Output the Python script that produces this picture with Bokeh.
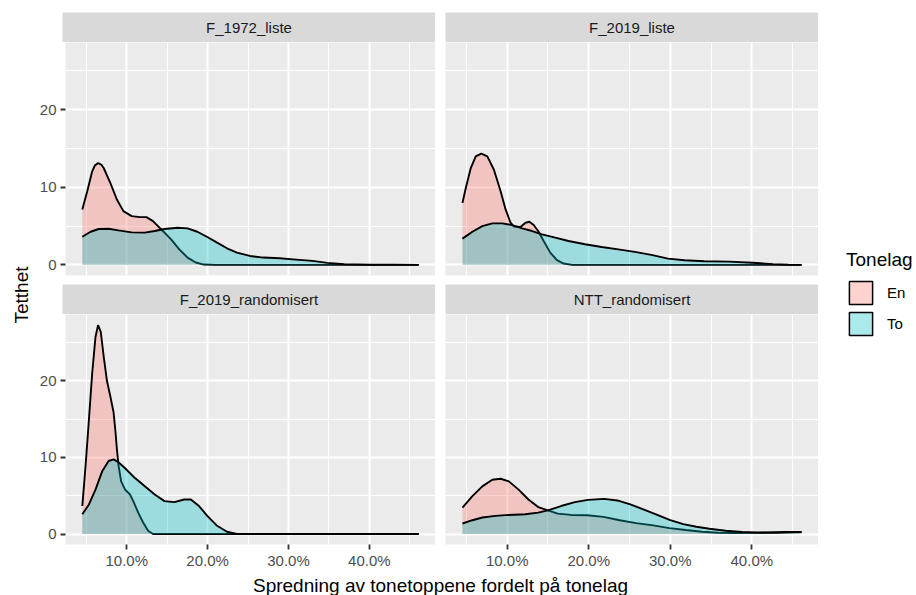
from math import pi
from bokeh.plotting import figure
from bokeh.models import (Range1d, FixedTicker, NumeralTickFormatter, Label, Legend,
                          LegendItem, ColumnDataSource, LinearAxis, Grid)
from bokeh.layouts import row, column
from bokeh.embed import file_html
from bokeh.resources import INLINE

FONT = "Liberation Sans"

# ---------------- data ----------------
facets = ["F_1972_liste", "F_2019_liste", "F_2019_randomisert", "NTT_randomisert"]
groups = ["En", "To"]
group_colors = ["#F8766D", "#00BFC4"]

x_ticks = [0.1, 0.2, 0.3, 0.4]
x_minor = [0.05, 0.15, 0.25, 0.35, 0.45]
y_ticks = [0, 10, 20]
y_minor = [5, 15, 25]

f1972_en_x = [0.0451, 0.0512, 0.0573, 0.0606, 0.0646, 0.0687, 0.0715, 0.0797, 0.0878, 0.0959, 0.1061,
              0.1163, 0.1244, 0.1325, 0.1386, 0.1447, 0.1549, 0.1650, 0.1752, 0.1854, 0.1955, 0.21,
              0.25, 0.30, 0.35, 0.40, 0.461]
f1972_en_y = [7.14, 9.49, 12.05, 12.8, 13.12, 12.9, 12.48, 10.56, 8.42, 6.92, 6.28,
              6.15, 6.15, 5.64, 5.0, 4.36, 3.29, 2.0, 0.94, 0.30, 0.04, 0.0,
              0.0, 0.0, 0.0, 0.0, 0.0]
f1972_to_x = [0.0451, 0.0553, 0.0654, 0.0776, 0.0898, 0.1061, 0.1224, 0.1346, 0.1467, 0.163, 0.1752,
              0.1874, 0.1996, 0.2118, 0.224, 0.2362, 0.2524, 0.2687, 0.289, 0.3093, 0.3297, 0.348,
              0.369, 0.40, 0.43, 0.461]
f1972_to_y = [3.63, 4.27, 4.62, 4.66, 4.44, 4.19, 4.15, 4.36, 4.62, 4.79, 4.70,
              4.27, 3.59, 2.86, 2.14, 1.58, 1.15, 0.94, 0.85, 0.68, 0.51, 0.25,
              0.08, 0.02, 0.01, 0.0]

f2019l_en_x = [0.0451, 0.0492, 0.0553, 0.0614, 0.0683, 0.0756, 0.0837, 0.0919, 0.098, 0.1041, 0.1081,
               0.1163, 0.1224, 0.1272, 0.1325, 0.1386, 0.1447, 0.1528, 0.161, 0.1691, 0.18, 0.22,
               0.30, 0.40, 0.461]
f2019l_en_y = [7.99, 9.91, 12.48, 13.97, 14.32, 13.97, 12.26, 9.49, 7.14, 5.43, 4.95,
               4.87, 5.43, 5.56, 5.13, 4.27, 3.08, 1.58, 0.6, 0.17, 0.0, 0.0,
               0.0, 0.0, 0.0]
f2019l_to_x = [0.0451, 0.0573, 0.0695, 0.0817, 0.0939, 0.1061, 0.1183, 0.1305, 0.1427, 0.1589, 0.1752,
               0.1955, 0.2158, 0.2362, 0.2565, 0.2768, 0.2972, 0.3175, 0.3419, 0.372, 0.401, 0.426,
               0.445, 0.461]
f2019l_to_y = [3.38, 4.27, 5.0, 5.34, 5.34, 5.13, 4.7, 4.36, 3.93, 3.5, 3.08,
               2.65, 2.31, 2.0, 1.67, 1.28, 0.8, 0.6, 0.47, 0.42, 0.28, 0.1,
               0.02, 0.0]

f2019r_en_x = [0.0451, 0.0492, 0.0533, 0.0573, 0.0614, 0.0646, 0.0679, 0.0715, 0.0756, 0.0797, 0.0837,
               0.0858, 0.0878, 0.0898, 0.0931, 0.098, 0.1041, 0.1081, 0.1142, 0.1203, 0.1264, 0.1325,
               0.14, 0.25, 0.35, 0.461]
f2019r_en_y = [3.65, 9.0, 15.0, 21.0, 25.75, 27.25, 26.4, 23.2, 19.96, 18.0, 15.9,
               13.7, 11.16, 9.0, 6.87, 5.79, 5.15, 4.29, 2.79, 1.5, 0.43, 0.0,
               0.0, 0.0, 0.0, 0.0]
f2019r_to_x = [0.0451, 0.0533, 0.0614, 0.0695, 0.0776, 0.0837, 0.0898, 0.098, 0.1102, 0.1224, 0.1346,
               0.1467, 0.1589, 0.1711, 0.1793, 0.1894, 0.1996, 0.2118, 0.224, 0.2362, 0.30, 0.40,
               0.461]
f2019r_to_y = [2.58, 3.86, 5.79, 8.15, 9.53, 9.74, 9.36, 8.58, 7.3, 6.22, 5.15,
               4.29, 4.16, 4.5, 4.5, 3.65, 2.36, 1.07, 0.3, 0.0, 0.0, 0.0,
               0.0]

ntt_en_x = [0.0451, 0.0573, 0.0695, 0.0817, 0.0919, 0.102, 0.114, 0.126, 0.138, 0.150, 0.162,
            0.178, 0.198, 0.218, 0.238, 0.258, 0.279, 0.299, 0.319, 0.339, 0.359, 0.379,
            0.400, 0.420, 0.440, 0.461]
ntt_en_y = [3.43, 4.94, 6.22, 7.08, 7.21, 6.87, 5.79, 4.5, 3.52, 3.09, 2.66,
            2.49, 2.45, 2.23, 1.8, 1.42, 1.12, 0.77, 0.52, 0.3, 0.17, 0.13,
            0.17, 0.21, 0.26, 0.28]
ntt_to_x = [0.0451, 0.0573, 0.0695, 0.0856, 0.102, 0.122, 0.138, 0.150, 0.166, 0.183, 0.199,
            0.219, 0.235, 0.251, 0.267, 0.284, 0.300, 0.316, 0.332, 0.348, 0.368, 0.388,
            0.408, 0.428, 0.448, 0.461]
ntt_to_y = [1.37, 1.8, 2.15, 2.36, 2.49, 2.58, 2.79, 3.09, 3.65, 4.16, 4.46,
            4.59, 4.38, 3.86, 3.22, 2.49, 1.8, 1.29, 0.94, 0.69, 0.43, 0.26,
            0.17, 0.17, 0.21, 0.26]

series = {
    "F_1972_liste": [(f1972_en_x, f1972_en_y), (f1972_to_x, f1972_to_y)],
    "F_2019_liste": [(f2019l_en_x, f2019l_en_y), (f2019l_to_x, f2019l_to_y)],
    "F_2019_randomisert": [(f2019r_en_x, f2019r_en_y), (f2019r_to_x, f2019r_to_y)],
    "NTT_randomisert": [(ntt_en_x, ntt_en_y), (ntt_to_x, ntt_to_y)],
}

X_RANGE = (0.0243, 0.4818)
Y_RANGE = (-1.37, 28.65)

PANEL_BG = "#EBEBEB"
STRIP_BG = "#D9D9D9"
FILL_ALPHA = 0.33


def blank(w, h, left=0, right=0, top=0, bottom=0, bg="white"):
    p = figure(width=w, height=h, x_range=Range1d(0, 1), y_range=Range1d(0, 1),
               output_backend="svg", toolbar_location=None,
               x_axis_location=None, y_axis_location=None,
               min_border_left=left, min_border_right=right,
               min_border_top=top, min_border_bottom=bottom)
    p.grid.visible = False
    p.outline_line_color = None
    p.background_fill_color = bg
    p.border_fill_color = "white"
    return p


def strip(title, w, left, h, top):
    p = blank(w, h, left=left, top=top, bg=STRIP_BG)
    p.add_layout(Label(x=0.5, y=0.5, text=title, text_align="center", text_baseline="middle",
                       text_font=FONT, text_font_size="15px", text_color="#1A1A1A"))
    return p


def panel(name, w, left, h, bottom, show_x, show_y):
    p = figure(width=w, height=h, x_range=Range1d(*X_RANGE), y_range=Range1d(*Y_RANGE),
               output_backend="svg", toolbar_location=None,
               x_axis_location=None, y_axis_location=None,
               min_border_left=left, min_border_right=0, min_border_top=0,
               min_border_bottom=bottom)
    p.grid.visible = False
    p.outline_line_color = None
    p.background_fill_color = PANEL_BG
    p.border_fill_color = "white"

    xt = FixedTicker(ticks=x_ticks, minor_ticks=x_minor)
    yt = FixedTicker(ticks=y_ticks, minor_ticks=y_minor)
    for dim, t in ((0, xt), (1, yt)):
        g = Grid(dimension=dim, ticker=t, grid_line_color="white", grid_line_width=2,
                 minor_grid_line_color="white", minor_grid_line_width=1)
        p.add_layout(g, "center")

    axis_style = dict(axis_line_color=None, major_tick_line_color="#333333",
                      major_tick_line_width=1.8, major_tick_out=5, major_tick_in=0,
                      minor_tick_line_color=None, major_label_text_font=FONT,
                      major_label_text_font_size="15px", major_label_text_color="#4D4D4D")
    if show_x:
        ax = LinearAxis(ticker=xt, formatter=NumeralTickFormatter(format="0.0%"),
                        major_label_standoff=2, **axis_style)
        p.add_layout(ax, "below")
    if show_y:
        ay = LinearAxis(ticker=yt, major_label_standoff=4, **axis_style)
        p.add_layout(ay, "left")

    for (xs, ys), col in zip(series[name], group_colors):
        src = ColumnDataSource(dict(x=xs, y=ys))
        p.varea(x="x", y1=0, y2="y", source=src, fill_color=col, fill_alpha=FILL_ALPHA)
        p.line(x="x", y="y", source=src, line_color="black", line_width=1.9)
    return p


# left column: 399 wide (26 border + 373 frame); right column: 383 wide (10 gap + 373 frame)
s_tl = strip(facets[0], 399, 26, 42, 12)
s_tr = strip(facets[1], 383, 10, 42, 12)
p_tl = panel(facets[0], 399, 26, 242, 9, False, True)
p_tr = panel(facets[1], 383, 10, 242, 9, False, False)
s_bl = strip(facets[2], 399, 26, 30, 0)
s_br = strip(facets[3], 383, 10, 30, 0)
p_bl = panel(facets[2], 399, 26, 257, 24, True, True)
p_br = panel(facets[3], 383, 10, 257, 24, True, False)

xtitle = blank(782, 24, left=26)
xtitle.add_layout(Label(x=0.5, y=0, text="Spredning av tonetoppene fordelt på tonelag",
                        text_align="center", text_baseline="bottom", text_font=FONT,
                        text_font_size="19px", text_color="black"))

ytitle = blank(36, 595, left=6, top=42, bottom=48)
ytitle.add_layout(Label(x=0.5, y=0.5, text="Tetthet", angle=pi / 2, text_align="center",
                        text_baseline="middle", text_font=FONT, text_font_size="19px",
                        text_color="black"))

leg_fig = blank(98, 595, top=42, bottom=48)
leg_items = []
for g, col in zip(groups, group_colors):
    # legend-only proxy glyph: one row with undefined (NaN) position, so nothing is drawn in the frame
    proxy = ColumnDataSource(dict(tonelag=[g], left=[float("nan")], right=[float("nan")],
                                  top=[float("nan")], bottom=[float("nan")]))
    r = leg_fig.quad(left="left", right="right", top="top", bottom="bottom", source=proxy,
                     fill_color=col, fill_alpha=FILL_ALPHA, line_color="black", line_width=1.5)
    leg_items.append(LegendItem(label=g, renderers=[r]))
legend = Legend(items=leg_items, title="Tonelag", location=(28, 209),
                title_text_font=FONT, title_text_font_size="19px", title_text_font_style="normal",
                title_text_color="black", title_standoff=7,
                label_text_font=FONT, label_text_font_size="15px", label_text_color="black",
                glyph_width=29, glyph_height=29, label_height=29, label_standoff=12, spacing=2,
                padding=0, margin=0, border_line_color=None, background_fill_alpha=0)
leg_fig.add_layout(legend)

grid_col = column(row(s_tl, s_tr), row(p_tl, p_tr), row(s_bl, s_br), row(p_bl, p_br), xtitle)
layout = row(ytitle, grid_col, leg_fig)

open("out.html", "w").write(file_html(layout, INLINE))
